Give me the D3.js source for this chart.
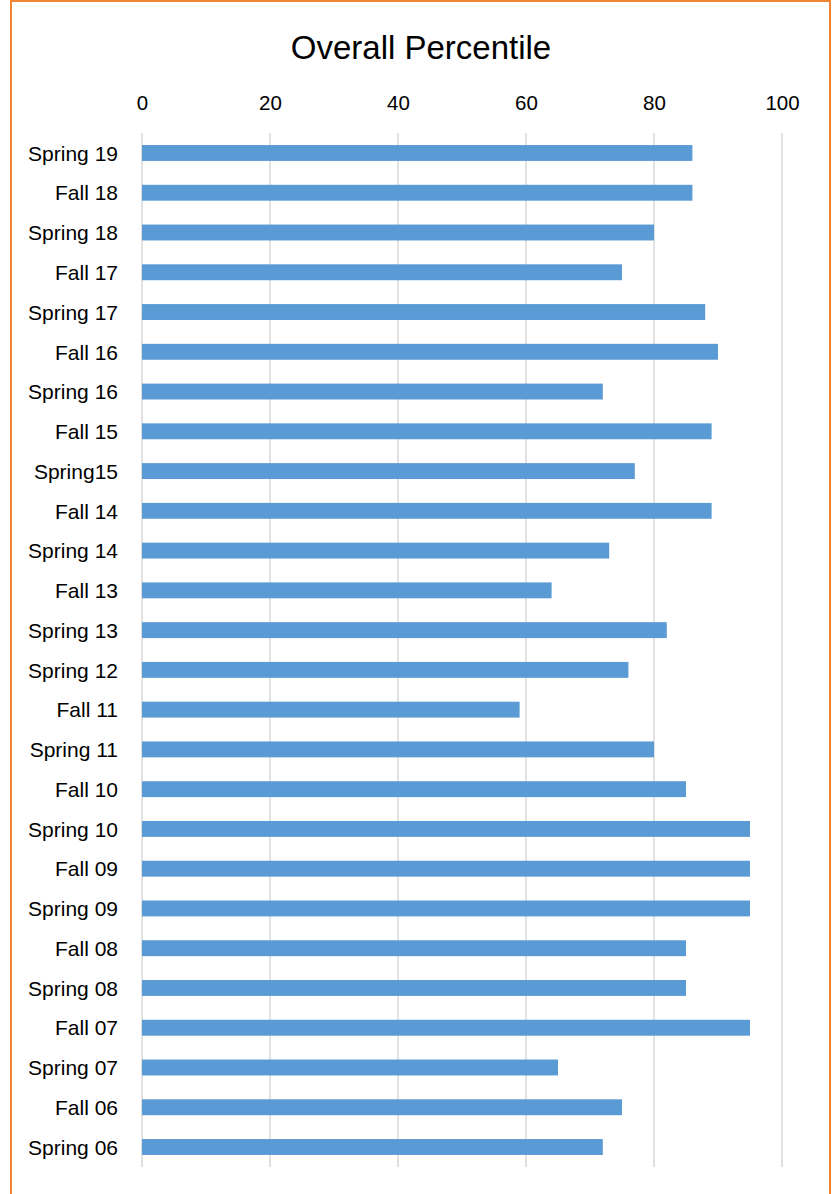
<!DOCTYPE html>
<html><head><meta charset="utf-8">
<script src="https://cdn.jsdelivr.net/npm/d3@7"></script>
<style>body{margin:0;background:#fff}</style>
</head><body>
<svg id="chart" width="837" height="1194"></svg>
<script>
const categories = ["Spring 19","Fall 18","Spring 18","Fall 17","Spring 17","Fall 16","Spring 16","Fall 15","Spring15","Fall 14","Spring 14","Fall 13","Spring 13","Spring 12","Fall 11","Spring 11","Fall 10","Spring 10","Fall 09","Spring 09","Fall 08","Spring 08","Fall 07","Spring 07","Fall 06","Spring 06"];
const values = [86,86,80,75,88,90,72,89,77,89,73,64,82,76,59,80,85,95,95,95,85,85,95,65,75,72];
const tickValues = [0,20,40,60,80,100];
const title = "Overall Percentile";

const svg = d3.select("#chart");
const font = "'Liberation Sans', Arial, sans-serif";
const plotLeft = 142, plotRight = 782, plotTop = 133.1, plotBottom = 1166.9;

// border
svg.append("rect").attr("x",11).attr("y",1).attr("width",819).attr("height",1200)
  .attr("fill","none").attr("stroke","#F08433").attr("stroke-width",2);

const x = d3.scaleLinear().domain([0,100]).range([plotLeft,plotRight]);
const y = d3.scaleBand().domain(categories).range([plotTop,plotBottom]).paddingInner(0.6).paddingOuter(0.3);

// gridlines
svg.append("g").selectAll("line").data(tickValues).join("line")
  .attr("x1",d=>x(d)).attr("x2",d=>x(d)).attr("y1",plotTop).attr("y2",plotBottom)
  .attr("stroke","#d9d9d9").attr("stroke-width",1.5);

// top axis labels
const ax = svg.append("g").attr("transform",`translate(0,${plotTop})`)
  .call(d3.axisTop(x).tickValues(tickValues).tickSize(0).tickPadding(23));
ax.select(".domain").remove();
ax.selectAll("text").attr("font-family",font).attr("font-size",20.5).attr("fill","#000");

// bars
svg.append("g").selectAll("rect").data(values).join("rect")
  .attr("x",x(0)).attr("y",(d,i)=>y(categories[i]))
  .attr("width",d=>x(d)-x(0)).attr("height",y.bandwidth())
  .attr("fill","#5B9BD5");

// category labels
const ay = svg.append("g").attr("transform",`translate(${plotLeft},1)`)
  .call(d3.axisLeft(y).tickSize(0).tickPadding(24));
ay.select(".domain").remove();
ay.selectAll("text").attr("font-family",font).attr("font-size",21).attr("fill","#000");

// title
svg.append("text").attr("x",421).attr("y",59).attr("text-anchor","middle")
  .attr("font-family",font).attr("font-size",33).attr("fill","#000").text(title);
</script>
</body></html>
